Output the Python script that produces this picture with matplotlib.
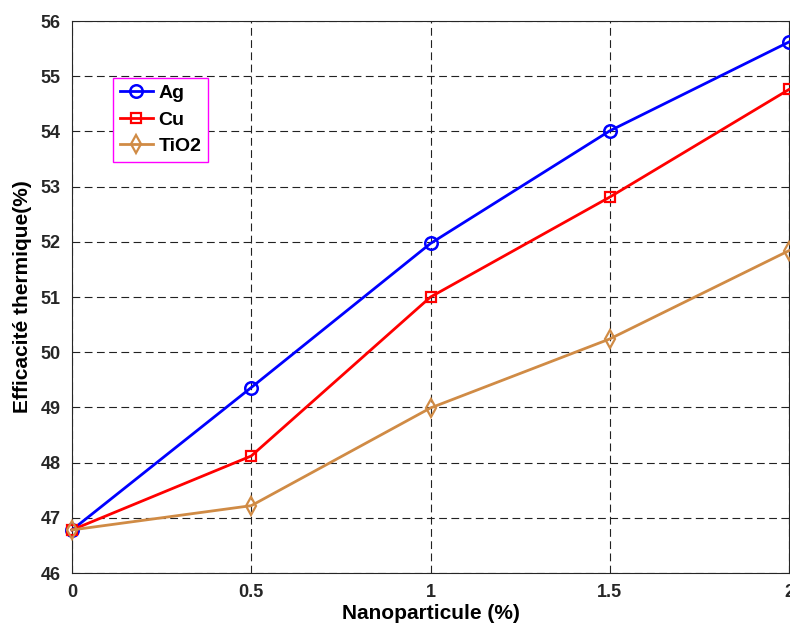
import numpy as np
import matplotlib.pyplot as plt

plt.rcParams['font.family'] = ['Liberation Sans', 'DejaVu Sans']

# data
nano = [0, 0.5, 1, 1.5, 2]
ag = [46.78, 49.36, 51.97, 54.01, 55.62]
cu = [46.78, 48.12, 51.00, 52.81, 54.76]
tio2 = [46.78, 47.22, 48.99, 50.24, 51.84]

fig = plt.figure(figsize=(7.9, 6.41), dpi=100)
ax = fig.add_axes([72/790, 1 - 573/641, 717/790, 552/641])

ax.plot(nano, ag, color='#0000ff', marker='o', markersize=9, markerfacecolor='none',
        markeredgewidth=1.8, linewidth=2, label='Ag', clip_on=False, zorder=5)
ax.plot(nano, cu, color='#ff0000', marker='s', markersize=7, markerfacecolor='none',
        markeredgewidth=1.6, linewidth=2, label='Cu', clip_on=False, zorder=5)
ax.plot(nano, tio2, color='#d08b45', marker='d', markersize=9, markerfacecolor='none',
        markeredgewidth=1.6, linewidth=2, label='TiO2', clip_on=False, zorder=5)

ax.set_xlim(0, 2)
ax.set_ylim(46, 56)
ax.set_xticks([0, 0.5, 1, 1.5, 2])
ax.set_xticklabels(['0', '0.5', '1', '1.5', '2'])
ax.set_yticks(np.arange(46, 57, 1))
ax.tick_params(direction='in', length=0, labelsize=13, colors='#262626', pad=8)
for lab in ax.get_xticklabels() + ax.get_yticklabels():
    lab.set_fontweight('bold')

ax.grid(True, color='#222222', linestyle=(0, (7, 4)), linewidth=0.8)
for s in ax.spines.values():
    s.set_color('#262626')
    s.set_linewidth(0.8)

ax.set_xlabel('Nanoparticule (%)', fontsize=15, fontweight='bold', labelpad=2)
ax.set_ylabel('Efficacité thermique(%)', fontsize=15, fontweight='bold', labelpad=6)

leg = ax.legend(loc='upper left', bbox_to_anchor=(0.057, 0.897),
                prop={'weight': 'bold', 'size': 14}, fancybox=False, framealpha=1,
                edgecolor='#ff00ff', handlelength=1.7, handletextpad=0.3,
                borderpad=0.35, borderaxespad=0, labelspacing=0.45)
leg.get_frame().set_linewidth(1.0)

fig.savefig('out.png', dpi=100)
